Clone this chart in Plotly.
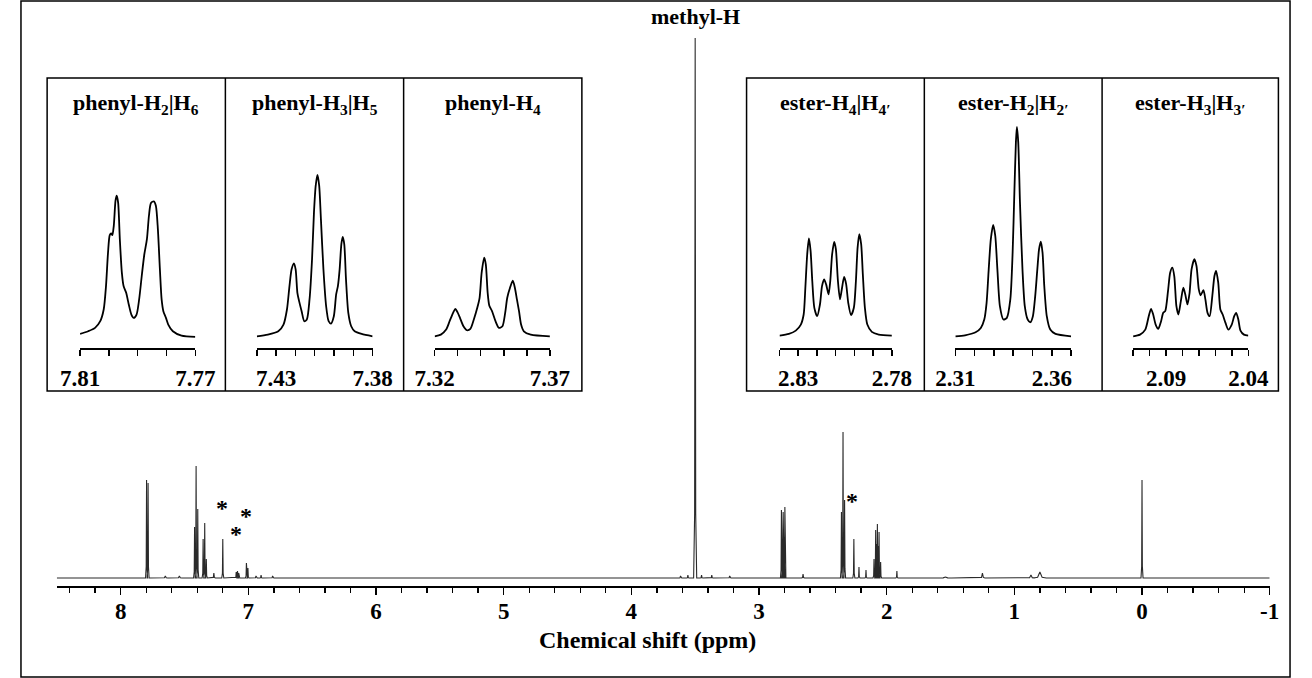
import plotly.graph_objects as go

W, H = 1312, 678
SERIF = "Liberation Serif"

# ---------------- main spectrum: peak table (ppm, height, foot half-width) ----------------
MAIN_PPM = [7.797, 7.785, 7.65, 7.54, 7.421, 7.409, 7.396, 7.354, 7.3415, 7.329, 7.27, 7.20,
            7.095, 7.085, 7.075, 7.015, 7.003, 6.94, 6.90, 6.81,
            3.615, 3.557, 3.50, 3.45, 3.37, 3.23,
            2.8243, 2.8162, 2.8108, 2.8055, 2.7974, 2.655,
            2.3543, 2.3419, 2.3296, 2.257, 2.217, 2.162,
            2.0991, 2.0862, 2.0795, 2.0728, 2.0673, 2.0596, 2.0474,
            1.92, 1.54, 1.25, 0.87, 0.80, 0.0]
MAIN_HEIGHT = [98, 95, 2, 2, 51, 112, 69, 39, 55, 19, 5, 39,
               6, 7, 5, 15, 10, 2, 3, 2,
               2, 3, 540, 3, 3, 2,
               68, 39, 66, 41, 71, 4,
               66, 146, 78, 39, 11, 8,
               19, 48, 34, 54, 32, 46, 16,
               7, 1, 5, 3, 6, 98]
MAIN_LW = [0.008, 0.008, 0.02, 0.02, 0.008, 0.008, 0.008, 0.008, 0.008, 0.008, 0.012, 0.008,
           0.008, 0.008, 0.008, 0.008, 0.008, 0.01, 0.01, 0.01,
           0.01, 0.01, 0.012, 0.01, 0.01, 0.01,
           0.008, 0.008, 0.008, 0.008, 0.008, 0.012,
           0.008, 0.008, 0.008, 0.008, 0.008, 0.008,
           0.008, 0.008, 0.008, 0.008, 0.008, 0.008, 0.008,
           0.008, 0.05, 0.02, 0.03, 0.05, 0.008]

MAIN_TICKS = [8, 7, 6, 5, 4, 3, 2, 1, 0, -1]
MAIN_TICKTEXT = ["8", "7", "6", "5", "4", "3", "2", "1", "0", "-1"]

# impurity markers (ppm, height)
STAR_PPM = [7.21, 7.097, 7.02, 2.27]
STAR_HEIGHT = [75, 49, 67, 82]

INSET1_PPM = [7.8100, 7.8072, 7.8048, 7.8030, 7.8018, 7.8010, 7.8003, 7.7997, 7.7992, 7.7988, 7.7983,
              7.7977, 7.7973, 7.7968, 7.7962, 7.7955, 7.7949, 7.7940, 7.7931, 7.7922, 7.7914, 7.7904,
              7.7895, 7.7886, 7.7877, 7.7868, 7.7861, 7.7854, 7.7844, 7.7837, 7.7830, 7.7823, 7.7817,
              7.7811, 7.7802, 7.7794, 7.7778, 7.7748, 7.7700]
INSET1_INT = [7, 15, 25, 45, 80, 150, 250, 302, 307, 302, 330, 405, 420, 400, 290, 190, 150, 130, 95,
              65, 55, 65, 110, 180, 245, 290, 360, 398, 403, 390, 320, 200, 110, 75, 55, 35, 15, 2, -2]

INSET2_PPM = [7.4400, 7.4343, 7.4289, 7.4262, 7.4244, 7.4231, 7.4220, 7.4208, 7.4199, 7.4190, 7.4181,
              7.4168, 7.4154, 7.4141, 7.4127, 7.4114, 7.4104, 7.4095, 7.4086, 7.4077, 7.4068, 7.4055,
              7.4041, 7.4028, 7.4016, 7.4001, 7.3989, 7.3980, 7.3971, 7.3962, 7.3955, 7.3947, 7.3938,
              7.3926, 7.3911, 7.3893, 7.3857, 7.3800]
INSET2_INT = [0, 5, 15, 35, 80, 150, 200, 218, 200, 130, 105, 75, 45, 50, 110, 230, 370, 450, 482, 450,
              350, 200, 90, 45, 38, 60, 125, 150, 200, 275, 297, 275, 170, 70, 30, 15, 7, 0]

INSET3_PPM = [7.3200, 7.3227, 7.3250, 7.3265, 7.3280, 7.3290, 7.3299, 7.3310, 7.3325, 7.3340, 7.3355,
              7.3370, 7.3385, 7.3395, 7.3404, 7.3415, 7.3422, 7.3430, 7.3437, 7.3449, 7.3464, 7.3479,
              7.3494, 7.3506, 7.3515, 7.3527, 7.3539, 7.3548, 7.3557, 7.3566, 7.3575, 7.3587, 7.3617,
              7.3700]
INSET3_INT = [0, 5, 20, 45, 70, 82, 72, 55, 30, 18, 22, 50, 85, 115, 190, 235, 215, 130, 92, 75, 45,
              25, 30, 70, 115, 145, 166, 145, 110, 75, 35, 15, 5, 0]

INSET4_PPM = [2.8400, 2.8350, 2.8313, 2.8286, 2.8271, 2.8262, 2.8252, 2.8243, 2.8234, 2.8225, 2.8214,
              2.8199, 2.8184, 2.8173, 2.8162, 2.8151, 2.8138, 2.8129, 2.8119, 2.8108, 2.8099, 2.8088,
              2.8077, 2.8066, 2.8055, 2.8044, 2.8033, 2.8018, 2.8003, 2.7992, 2.7983, 2.7974, 2.7964,
              2.7955, 2.7944, 2.7931, 2.7907, 2.7870, 2.7800]
INSET4_INT = [2, 7, 17, 35, 65, 145, 245, 292, 255, 165, 85, 60, 95, 150, 170, 155, 125, 165, 245, 282,
              260, 165, 110, 145, 177, 155, 100, 63, 85, 165, 265, 305, 275, 185, 85, 35, 13, 5, 2]

INSET5_PPM = [2.3100, 2.3150, 2.3205, 2.3232, 2.3250, 2.3262, 2.3273, 2.3284, 2.3296, 2.3307, 2.3318,
              2.3331, 2.3349, 2.3367, 2.3385, 2.3397, 2.3406, 2.3414, 2.3419, 2.3426, 2.3435, 2.3448,
              2.3460, 2.3475, 2.3489, 2.3502, 2.3514, 2.3525, 2.3534, 2.3543, 2.3552, 2.3561, 2.3574,
              2.3592, 2.3619, 2.3700]
INSET5_INT = [0, 3, 12, 25, 50, 100, 200, 290, 333, 300, 200, 90, 50, 55, 110, 250, 430, 580, 625, 580,
              400, 200, 90, 50, 42, 60, 120, 200, 260, 283, 250, 150, 60, 20, 7, 0]

INSET6_PPM = [2.1100, 2.1058, 2.1026, 2.1005, 2.0991, 2.0978, 2.0963, 2.0947, 2.0930, 2.0917, 2.0905,
              2.0888, 2.0875, 2.0862, 2.0850, 2.0837, 2.0825, 2.0810, 2.0795, 2.0783, 2.0770, 2.0757,
              2.0745, 2.0728, 2.0715, 2.0701, 2.0690, 2.0673, 2.0661, 2.0648, 2.0635, 2.0619, 2.0606,
              2.0596, 2.0583, 2.0570, 2.0556, 2.0539, 2.0522, 2.0501, 2.0486, 2.0474, 2.0461, 2.0448,
              2.0427, 2.0400]
INSET6_INT = [0, 5, 20, 60, 82, 65, 35, 22, 45, 70, 75, 135, 190, 205, 180, 90, 65, 105, 145, 125, 95,
              130, 200, 230, 210, 140, 122, 138, 110, 70, 60, 120, 180, 195, 160, 80, 65, 40, 20, 35, 60,
              70, 50, 17, 5, 2]

INSET_TITLES = ["phenyl-H<sub>2</sub>|H<sub>6</sub>", "phenyl-H<sub>3</sub>|H<sub>5</sub>",
                "phenyl-H<sub>4</sub>", "ester-H<sub>4</sub>|H<sub>4\u2032</sub>",
                "ester-H<sub>2</sub>|H<sub>2\u2032</sub>", "ester-H<sub>3</sub>|H<sub>3\u2032</sub>"]
INSET_RANGES = [[7.81, 7.77], [7.44, 7.38], [7.32, 7.37], [2.84, 2.78], [2.31, 2.37], [2.11, 2.04]]
INSET_TICKS = [[7.81, 7.80, 7.79, 7.78, 7.77],
               [7.44, 7.43, 7.42, 7.41, 7.40, 7.39, 7.38],
               [7.32, 7.33, 7.34, 7.35, 7.36, 7.37],
               [2.84, 2.83, 2.82, 2.81, 2.80, 2.79, 2.78],
               [2.31, 2.32, 2.33, 2.34, 2.35, 2.36, 2.37],
               [2.11, 2.10, 2.09, 2.08, 2.07, 2.06, 2.05, 2.04]]
INSET_LABEL_VALS = [[7.81, 7.77], [7.43, 7.38], [7.32, 7.37],
                    [2.83, 2.78], [2.31, 2.36], [2.09, 2.04]]
INSET_LABEL_TEXT = [["7.81", "7.77"], ["7.43", "7.38"], ["7.32", "7.37"],
                    ["2.83", "2.78"], ["2.31", "2.36"], ["2.09", "2.04"]]
INSET_DATA = [(INSET1_PPM, INSET1_INT), (INSET2_PPM, INSET2_INT), (INSET3_PPM, INSET3_INT),
              (INSET4_PPM, INSET4_INT), (INSET5_PPM, INSET5_INT), (INSET6_PPM, INSET6_INT)]

# ---------------- layout geometry (pixels) ----------------
AX_PIX = [(62, 181), (244.5, 364), (428, 547), (784, 900), (965.5, 1085), (1149, 1268)]
BOX_EDGES = [(28, 212), (212, 396), (396, 580), (750, 933.5), (933.5, 1117), (1117, 1299)]
BOX_TOP, BOX_BOT = 78, 391
INSET_AX_Y, INSET_TOP_Y = 348, 122


def px(x):
    return x / W


def py(y):
    return 1 - y / H


fig = go.Figure()

# main spectrum polyline built from the peak table
order = sorted(range(len(MAIN_PPM)), key=lambda i: -MAIN_PPM[i])
xs, ys = [8.5], [0]
for i in order:
    p, h, w = MAIN_PPM[i], MAIN_HEIGHT[i], MAIN_LW[i]
    xs += [p + w, p + 0.35 * w, p, p - 0.35 * w, p - w]
    ys += [0, 0.12 * h, h, 0.12 * h, 0]
xs.append(-1)
ys.append(0)
fig.add_trace(go.Scatter(x=xs, y=ys, mode="lines", line=dict(color="#2a2a2a", width=1.1),
                         xaxis="x", yaxis="y", hoverinfo="skip"))

layout = dict(
    width=W, height=H, margin=dict(l=0, r=0, t=0, b=0),
    paper_bgcolor="white", plot_bgcolor="rgba(0,0,0,0)", showlegend=False,
    font=dict(family=SERIF, color="black"),
    xaxis=dict(domain=[px(38), px(1290)], range=[8.5, -1], anchor="y",
               tickmode="array", tickvals=MAIN_TICKS, ticktext=MAIN_TICKTEXT,
               ticks="outside", ticklen=7, tickwidth=1.5, tickcolor="black",
               showline=True, linewidth=1.5, linecolor="black", showgrid=False, zeroline=False,
               minor=dict(tickmode="linear", tick0=0, dtick=0.2, ticks="outside", ticklen=5,
                          tickwidth=1.3, tickcolor="black", showgrid=False),
               tickfont=dict(family=SERIF, size=23, color="black", weight="bold"),
               ticklabelstandoff=-3),
    yaxis=dict(domain=[py(586), py(20)], range=[-8, 558], anchor="x", visible=False),
)

annotations = []
shapes = []
for k in range(6):
    n = k + 2
    ppm, inten = INSET_DATA[k]
    fig.add_trace(go.Scatter(x=ppm, y=inten, mode="lines",
                             line=dict(color="black", width=1.8, shape="spline", smoothing=0.7),
                             xaxis=f"x{n}", yaxis=f"y{n}", hoverinfo="skip"))
    l, r = AX_PIX[k]
    layout[f"xaxis{n}"] = dict(domain=[px(l), px(r)], range=INSET_RANGES[k], anchor=f"y{n}",
                               tickmode="array", tickvals=INSET_LABEL_VALS[k],
                               ticktext=INSET_LABEL_TEXT[k],
                               ticks="outside", ticklen=6, tickwidth=1.5, tickcolor="black",
                               minor=dict(tickmode="array", tickvals=INSET_TICKS[k], ticks="outside",
                                          ticklen=6, tickwidth=1.5, tickcolor="black",
                                          showgrid=False),
                               showline=True, linewidth=1.6, linecolor="black", showgrid=False,
                               zeroline=False,
                               tickfont=dict(family=SERIF, size=23, color="black", weight="bold"),
                               ticklabelstandoff=3)
    layout[f"yaxis{n}"] = dict(domain=[py(INSET_AX_Y), py(INSET_TOP_Y)], range=[-35, 640],
                               anchor=f"x{n}", visible=False)
    bl, br = BOX_EDGES[k]
    annotations.append(dict(x=px((bl + br) / 2), y=py(104), xref="paper", yref="paper",
                            text=f"<b>{INSET_TITLES[k]}</b>", showarrow=False,
                            xanchor="center", yanchor="middle",
                            font=dict(family=SERIF, size=22, color="black")))

# inset frames
for (x0, x1) in [(28, 580), (750, 1299)]:
    shapes.append(dict(type="rect", xref="paper", yref="paper", x0=px(x0), x1=px(x1),
                       y0=py(BOX_BOT), y1=py(BOX_TOP), line=dict(color="black", width=1.5)))
for xd in [212, 396, 933.5, 1117]:
    shapes.append(dict(type="line", xref="paper", yref="paper", x0=px(xd), x1=px(xd),
                       y0=py(BOX_BOT), y1=py(BOX_TOP), line=dict(color="black", width=1.5)))
# outer frame
shapes.append(dict(type="rect", xref="paper", yref="paper", x0=px(1), x1=px(1311),
                   y0=py(677), y1=py(1), line=dict(color="black", width=1.5)))

annotations.append(dict(x=px(697), y=py(17), xref="paper", yref="paper", text="<b>methyl-H</b>",
                        showarrow=False, xanchor="center", yanchor="middle",
                        font=dict(family=SERIF, size=22, color="black")))
annotations.append(dict(x=px(648), y=py(640), xref="paper", yref="paper",
                        text="<b>Chemical shift (ppm)</b>", showarrow=False,
                        xanchor="center", yanchor="middle",
                        font=dict(family=SERIF, size=24, color="black")))
for sp, sh in zip(STAR_PPM, STAR_HEIGHT):
    annotations.append(dict(x=sp, y=sh, xref="x", yref="y", text="<b>*</b>", showarrow=False,
                            xanchor="center", yanchor="middle", yshift=-5,
                            font=dict(family=SERIF, size=24, color="#000000")))

layout["annotations"] = annotations
layout["shapes"] = shapes
fig.update_layout(**layout)
fig.write_html("out.html", config={"displayModeBar": False, "staticPlot": True},
               post_script="document.body.style.margin='0px';document.body.style.overflow='hidden';")
